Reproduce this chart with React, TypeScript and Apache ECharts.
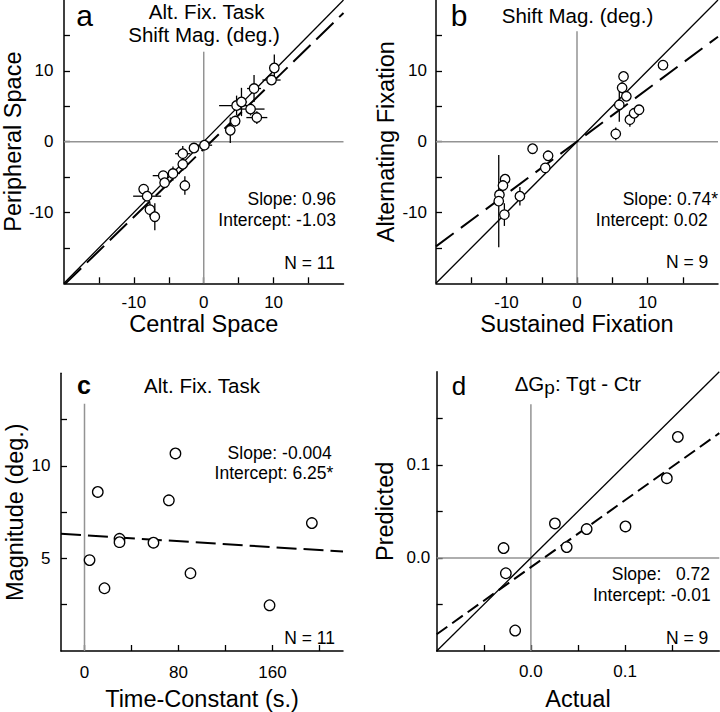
import React, { useEffect, useRef } from "react";
import * as echarts from "echarts";

// ---------- Panel a: Alt. Fix. Task, Shift Mag. ----------
const aCentral = [10.1, 9.7, 7.2, 4.7, 5.4, 6.7, 7.6, 4.5, 3.8, 0.1, -1.4, -3.0, -3.0, -2.7, -4.4, -5.8, -5.6, -8.6, -8.1, -7.7, -7.0];
const aPeripheral = [10.4, 8.7, 7.5, 5.1, 5.6, 4.6, 3.4, 2.9, 1.6, -0.5, -0.9, -1.7, -3.2, -6.2, -4.5, -4.8, -5.8, -6.7, -7.7, -9.6, -10.6];
const aCentralErr = [0.4, 1.3, 1.0, 2.5, 0.8, 2.0, 1.5, 0.5, 0.3, 1.1, 0.4, 1.1, 0.6, 0.3, 1.0, 1.5, 0.5, 0.5, 2.0, 0.6, 0.3];
const aPeripheralErr = [1.9, 0.6, 1.9, 1.4, 2.0, 0.9, 0.9, 0.8, 1.8, 0.3, 0.4, 1.1, 0.9, 1.3, 1.0, 0.6, 0.6, 0.5, 0.6, 1.0, 1.9];
const aSlope = 0.96;
const aIntercept = -1.03;

// ---------- Panel b: Sustained vs Alternating fixation ----------
const bSustained = [12.2, 6.6, 6.4, 7.0, 6.0, 5.5, 7.5, 8.1, 8.8, -6.3, -4.1, -4.5, -8.1, -10.2, -10.5, -11.0, -11.1, -10.3];
const bAlternating = [10.8, 9.2, 7.6, 6.4, 5.2, 1.1, 3.1, 4.0, 4.5, -1.0, -2.0, -3.7, -7.7, -5.3, -6.2, -7.5, -8.4, -10.3];
const bAlternatingErr = [0.3, 0.6, 0.8, 0.5, 2.4, 0.9, 1.0, 0.4, 0.3, 0.2, 0.7, 0.4, 1.3, 0.6, 0.4, 0.5, 6.5, 1.6];
const bSlope = 0.74;
const bIntercept = 0.02;

// ---------- Panel c: Time-constant vs magnitude ----------
const cTimeConstant = [4.3, 11.3, 17.0, 29.8, 29.8, 58.7, 71.8, 77.4, 90.2, 157.5, 193.5];
const cMagnitude = [4.91, 8.59, 3.39, 6.06, 5.88, 5.85, 8.14, 10.67, 4.2, 2.47, 6.91];
const cSlope = -0.004;
const cIntercept = 6.25;

// ---------- Panel d: Delta Gp ----------
const dActual = [-0.029, -0.0266, -0.0167, 0.0255, 0.038, 0.0592, 0.1004, 0.1443, 0.156];
const dPredicted = [0.0106, -0.0165, -0.078, 0.037, 0.0116, 0.031, 0.0338, 0.0856, 0.13];
const dSlope = 0.72;
const dIntercept = -0.01;

// tick / label values
const topTicks = [-15, -10, -5, 0, 5, 10, 15];
const topLabels = [-10, 0, 10];
const cXTicks = [0, 40, 80, 120, 160, 200];
const cXLabels = [0, 80, 160];
const cYTicks = [2.5, 5, 7.5, 10, 12.5];
const cYLabels = [5, 10];
const dTicks = [-0.05, 0, 0.05, 0.1, 0.15];
const dLabels = [0, 0.1];

const FONT = "'Liberation Sans', Arial, Helvetica, sans-serif";

function axis(gridIndex: number, min: number, max: number, ticks: number[], labels: number[], name: string, nameGap: number, margin: number, fmt?: (v: number) => string) {
  return {
    type: "value",
    gridIndex,
    min,
    max,
    name,
    nameLocation: "middle",
    nameGap,
    nameTextStyle: { fontSize: 23.5, color: "#000", fontFamily: FONT },
    axisLine: { show: true, onZero: false, lineStyle: { color: "#000", width: 1.5 } },
    axisTick: { show: true, inside: true, length: 6, customValues: ticks, lineStyle: { color: "#000", width: 1.3 } },
    axisLabel: { show: true, customValues: labels, color: "#000", fontSize: 17, fontFamily: FONT, margin, formatter: fmt ? (v: number) => fmt(v) : undefined },
    splitLine: { show: false },
  };
}

function lineSeries(idx: number, data: number[][], color: string, width: number, type: any, z: number) {
  return {
    type: "line",
    xAxisIndex: idx,
    yAxisIndex: idx,
    data,
    symbol: "none",
    silent: true,
    z,
    lineStyle: { color, width, type },
  };
}

function errSeries(idx: number, xs: number[], ys: number[], ex: number[] | null, ey: number[] | null) {
  return {
    type: "custom",
    xAxisIndex: idx,
    yAxisIndex: idx,
    silent: true,
    z: 4,
    data: xs.map((x, i) => [x, ys[i], ex ? ex[i] : 0, ey ? ey[i] : 0]),
    encode: { x: 0, y: 1 },
    renderItem: (params: any, api: any) => {
      const x = api.value(0);
      const y = api.value(1);
      const exv = api.value(2);
      const eyv = api.value(3);
      const children: any[] = [];
      if (exv > 0) {
        const p1 = api.coord([x - exv, y]);
        const p2 = api.coord([x + exv, y]);
        children.push({ type: "line", shape: { x1: p1[0], y1: p1[1], x2: p2[0], y2: p2[1] }, style: { stroke: "#000", lineWidth: 1.3 } });
      }
      if (eyv > 0) {
        const p1 = api.coord([x, y - eyv]);
        const p2 = api.coord([x, y + eyv]);
        children.push({ type: "line", shape: { x1: p1[0], y1: p1[1], x2: p2[0], y2: p2[1] }, style: { stroke: "#000", lineWidth: 1.3 } });
      }
      return { type: "group", children };
    },
  };
}

function scatter(idx: number, xs: number[], ys: number[], size: number) {
  return {
    type: "scatter",
    xAxisIndex: idx,
    yAxisIndex: idx,
    data: xs.map((x, i) => [x, ys[i]]),
    symbol: "circle",
    symbolSize: size,
    z: 5,
    itemStyle: { color: "#fff", borderColor: "#000", borderWidth: 1.3, opacity: 1 },
  };
}

function txt(text: string, x: number, y: number, size: number, align = "center", bold = false, vAlign = "middle", lineHeight?: number) {
  const style: any = {
    text,
    fill: "#000",
    font: `${bold ? "bold " : ""}${size}px ${FONT}`,
    align,
    verticalAlign: vAlign,
    textAlign: align,
    textVerticalAlign: vAlign,
  };
  if (lineHeight) style.lineHeight = lineHeight;
  return { type: "text", x, y, silent: true, style };
}

export default function App() {
  const ref = useRef<HTMLDivElement>(null);
  useEffect(() => {
    if (!ref.current) return;
    const chart = echarts.init(ref.current, null, { renderer: "svg" });
    const gray = "#939393";
    const fit = (s: number, b: number, x: number) => b + s * x;
    const option: any = {
      animation: false,
      backgroundColor: "#fff",
      grid: [
        { left: 61, top: 0, width: 282.5, height: 283.3 },
        { left: 436, top: 0, width: 282, height: 283.3 },
        { left: 61, top: 373.3, width: 282, height: 281 },
        { left: 436.7, top: 371.7, width: 282.6, height: 281.6 },
      ],
      xAxis: [
        axis(0, -20, 20, topTicks, topLabels, "Central Space", 28, 10.5),
        axis(1, -20, 20, topTicks, topLabels, "Sustained Fixation", 28, 10.5),
        axis(2, -20, 220, cXTicks, cXLabels, "Time-Constant (s.)", 36, 13),
        axis(3, -0.1, 0.2, dTicks, dLabels, "Actual", 36, 11.5, (v) => v.toFixed(1)),
      ],
      yAxis: [
        axis(0, -20, 20, topTicks, topLabels, "Peripheral Space", 31, 10.5),
        axis(1, -20, 20, topTicks, topLabels, "Alternating Fixation", 38, 9),
        axis(2, 0, 15, cYTicks, cYLabels, "Magnitude (deg.)", 34, 10.5),
        axis(3, -0.1, 0.2, dTicks, dLabels, "Predicted", 39.5, 6.5, (v) => v.toFixed(1)),
      ],
      series: [
        // panel a
        lineSeries(0, [[0, -20], [0, 12.7]], gray, 1.5, "solid", 1),
        lineSeries(0, [[-20, 0], [20, 0]], gray, 1.5, "solid", 1),
        lineSeries(0, [[-20, -20], [20, 20]], "#000", 1.3, "solid", 2),
        lineSeries(0, [[-20, fit(aSlope, aIntercept, -20)], [20, fit(aSlope, aIntercept, 20)]], "#000", 2, [24, 8], 3),
        errSeries(0, aCentral, aPeripheral, aCentralErr, aPeripheralErr),
        scatter(0, aCentral, aPeripheral, 9.5),
        // panel b
        lineSeries(1, [[0, -20], [0, 15.6]], gray, 1.5, "solid", 1),
        lineSeries(1, [[-20, 0], [20, 0]], gray, 1.5, "solid", 1),
        lineSeries(1, [[-20, -20], [20, 20]], "#000", 1.3, "solid", 2),
        lineSeries(1, [[-20, fit(bSlope, bIntercept, -20)], [20, fit(bSlope, bIntercept, 20)]], "#000", 2, [22, 9], 3),
        errSeries(1, bSustained, bAlternating, null, bAlternatingErr),
        scatter(1, bSustained, bAlternating, 9.5),
        // panel c
        lineSeries(2, [[0, 0], [0, 13.36]], gray, 1.5, "solid", 1),
        lineSeries(2, [[-20, fit(cSlope, cIntercept, -20)], [220, fit(cSlope, cIntercept, 220)]], "#000", 2, [20, 7], 3),
        scatter(2, cTimeConstant, cMagnitude, 10.5),
        // panel d
        lineSeries(3, [[0, -0.1], [0, 0.165]], gray, 1.5, "solid", 1),
        lineSeries(3, [[-0.1, 0], [0.2, 0]], gray, 1.5, "solid", 1),
        lineSeries(3, [[-0.1, -0.1], [0.2, 0.2]], "#000", 1.3, "solid", 2),
        lineSeries(3, [[-0.1, fit(dSlope, dIntercept, -0.1)], [0.2, fit(dSlope, dIntercept, 0.2)]], "#000", 2, [13, 6], 3),
        scatter(3, dActual, dPredicted, 10.5),
      ],
      graphic: [
        // panel a
        txt("a", 84.7, 1, 30, "center", false, "top", 28),
        txt("Alt. Fix. Task", 206.7, 11.6, 20.5),
        txt("Shift Mag. (deg.)", 204, 34.8, 20.5),
        txt(`Slope: ${aSlope.toFixed(2)}`, 336, 198.9, 17.5, "right"),
        txt(`Intercept: ${aIntercept.toFixed(2)}`, 336, 219.6, 17.5, "right"),
        txt("N = 11", 335, 263.2, 17.5, "right"),
        // panel b
        txt("b", 459, 1, 30, "center", false, "top", 28),
        txt("Shift Mag. (deg.)", 577.5, 15, 20.5),
        txt(`Slope: ${bSlope.toFixed(2)}*`, 718, 198.9, 17.5, "right"),
        txt(`Intercept: ${bIntercept.toFixed(2)}`, 707.7, 219.6, 17.5, "right"),
        txt("N = 9", 708.3, 262, 17.5, "right"),
        // panel c
        txt("c", 84, 385, 25, "center", true),
        txt("Alt. Fix. Task", 202, 385, 20.5),
        txt(`Slope: ${cSlope.toFixed(3)}`, 331.7, 453.4, 17.5, "right"),
        txt(`Intercept: ${cIntercept.toFixed(2)}*`, 333.3, 473.4, 17.5, "right"),
        txt("N = 11", 335, 637.5, 17.5, "right"),
        // panel d
        txt("d", 459, 385.9, 26),
        {
          type: "text",
          x: 578,
          y: 385,
          silent: true,
          style: {
            text: "{n|ΔG}{s|p}{n|: Tgt - Ctr}",
            align: "center",
            verticalAlign: "middle",
            textAlign: "center",
            textVerticalAlign: "middle",
            fill: "#000",
            rich: {
              n: { fontSize: 20.5, fontFamily: FONT, color: "#000", lineHeight: 24, verticalAlign: "top" },
              s: { fontSize: 19, fontFamily: FONT, color: "#000", lineHeight: 21, verticalAlign: "bottom" },
            },
          },
        },
        txt(`Slope:   ${dSlope.toFixed(2)}`, 710, 574, 17.5, "right"),
        txt(`Intercept: ${dIntercept.toFixed(2)}`, 710.7, 594.5, 17.5, "right"),
        txt("N = 9", 708.3, 637.5, 17.5, "right"),
      ],
    };
    chart.setOption(option);
    return () => chart.dispose();
  }, []);
  return <div ref={ref} style={{ position: "fixed", left: 0, top: 0, width: 720, height: 712, background: "#fff" }} />;
}
